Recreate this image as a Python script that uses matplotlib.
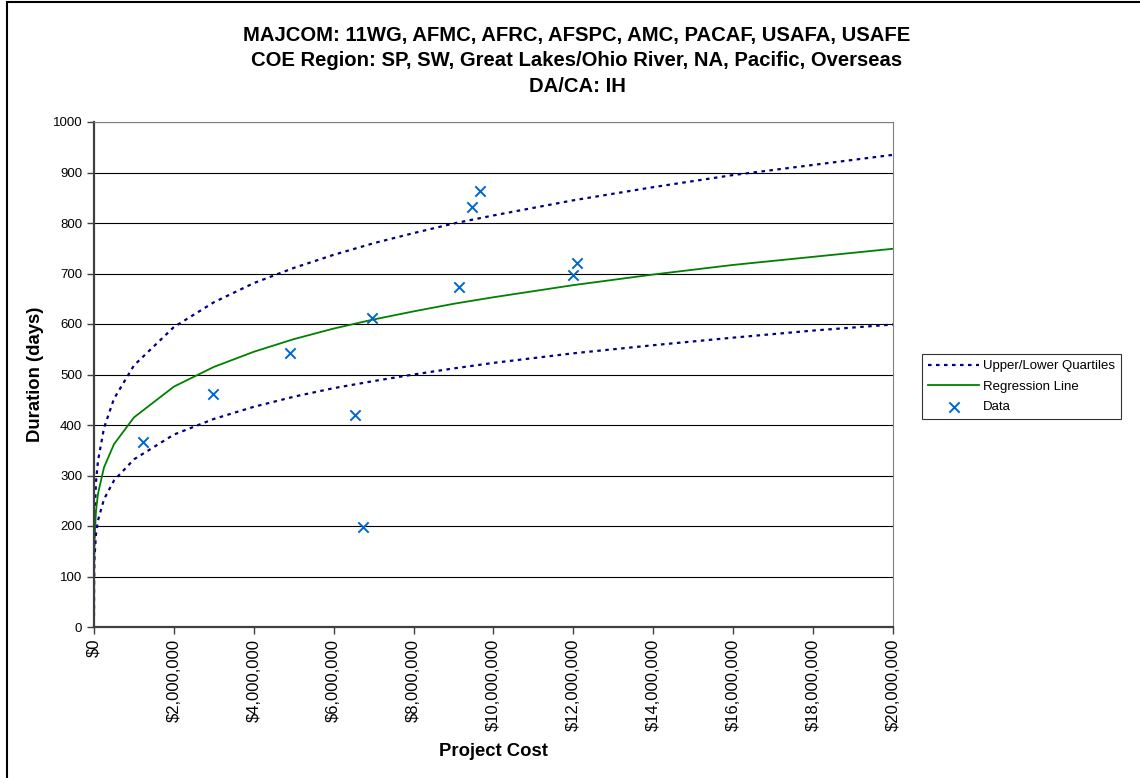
import matplotlib
matplotlib.use('Agg')
import matplotlib.pyplot as plt
from matplotlib.ticker import FuncFormatter, MultipleLocator
from matplotlib.patches import Rectangle

plt.rcParams['font.family'] = ['Liberation Sans', 'DejaVu Sans']

title = ('MAJCOM: 11WG, AFMC, AFRC, AFSPC, AMC, PACAF, USAFA, USAFE\n'
         'COE Region: SP, SW, Great Lakes/Ohio River, NA, Pacific, Overseas\n'
         'DA/CA: IH')

# scatter data (project cost in dollars, duration in days)
data_cost = [1.23e6, 2.98e6, 4.91e6, 6.53e6, 6.74e6, 6.95e6, 9.14e6, 9.45e6, 9.66e6, 12.0e6, 12.08e6]
data_days = [366, 461, 542, 420, 199, 612, 674, 832, 863, 698, 721]

# curves
curve_cost = [1, 100, 1e3, 1e4, 5e4, 1e5, 2.5e5, 5e5, 1e6, 2e6, 3e6, 4e6, 5e6, 6e6,
              7e6, 8e6, 9e6, 10e6, 12e6, 14e6, 16e6, 18e6, 20e6]
regression = [27, 68, 106, 167, 230, 264, 316, 362, 415, 476, 515, 545, 570, 591,
              609, 625, 640, 653, 677, 698, 717, 733, 749]
upper_q = [34, 84, 133, 209, 287, 329, 394, 452, 518, 594, 643, 681, 711, 737,
           760, 780, 799, 815, 845, 871, 895, 915, 935]
lower_q = [22, 54, 85, 134, 184, 211, 253, 290, 332, 381, 412, 436, 456, 473,
           487, 500, 512, 523, 542, 558, 573, 587, 599]

W, H = 1140, 778
fig = plt.figure(figsize=(W/100, H/100), dpi=100)
ax = fig.add_axes([94/W, 1-627/H, (893-94)/W, (627-122)/H])

# outer frame like the excel chart area
fig.patches.append(Rectangle((7/W, -0.05), 1.2, 1-2/H+0.05, transform=fig.transFigure,
                             fill=False, edgecolor='black', linewidth=1.5))

ax.plot(curve_cost, upper_q, color='#000080', lw=1.6, dashes=(1.6, 2.0), label='Upper/Lower Quartiles')
ax.plot(curve_cost, regression, color='#008000', lw=1.3, label='Regression Line')
ax.plot(curve_cost, lower_q, color='#000080', lw=1.6, dashes=(1.6, 2.0))
ax.scatter(data_cost, data_days, marker='x', s=55, color='#0066CC', linewidths=1.4,
           label='Data', zorder=5)

ax.set_xlim(0, 20e6)
ax.set_ylim(0, 1000)
ax.xaxis.set_major_locator(MultipleLocator(2e6))
ax.yaxis.set_major_locator(MultipleLocator(100))
ax.xaxis.set_major_formatter(FuncFormatter(lambda v, p: '${:,.0f}'.format(v)))
ax.grid(axis='y', color='black', lw=0.8)
ax.set_axisbelow(True)
ax.tick_params(axis='x', labelrotation=90, labelsize=12)
ax.tick_params(axis='y', labelsize=9.5)
ax.tick_params(length=5, width=1, color='#404040', direction='out')

ax.spines['left'].set_color('#404040')
ax.spines['bottom'].set_color('#404040')
ax.spines['left'].set_linewidth(1.6)
ax.spines['bottom'].set_linewidth(1.6)
ax.spines['top'].set_color('#808080')
ax.spines['right'].set_color('#808080')
ax.spines['top'].set_linewidth(0.8)
ax.spines['right'].set_linewidth(0.8)

fig.text(577/W, 1-26/H, title, ha='center', va='top', multialignment='center',
         fontsize=14.6, fontweight='bold', linespacing=1.42)
fig.text(493/W, 1-752/H, 'Project Cost', ha='center', va='center',
         fontsize=13.3, fontweight='bold')
fig.text(36/W, 1-374/H, 'Duration (days)', ha='center', va='center', rotation=90,
         fontsize=13.3, fontweight='bold')

leg = ax.legend(loc='upper left', bbox_to_anchor=(922/W, 1-354/H),
                bbox_transform=fig.transFigure, fontsize=9.5, frameon=True,
                fancybox=False, edgecolor='black', borderpad=0.45, handlelength=3.9,
                labelspacing=0.62, handletextpad=0.3, borderaxespad=0)
leg.get_frame().set_linewidth(0.8)

fig.savefig('out.png', dpi=100)
